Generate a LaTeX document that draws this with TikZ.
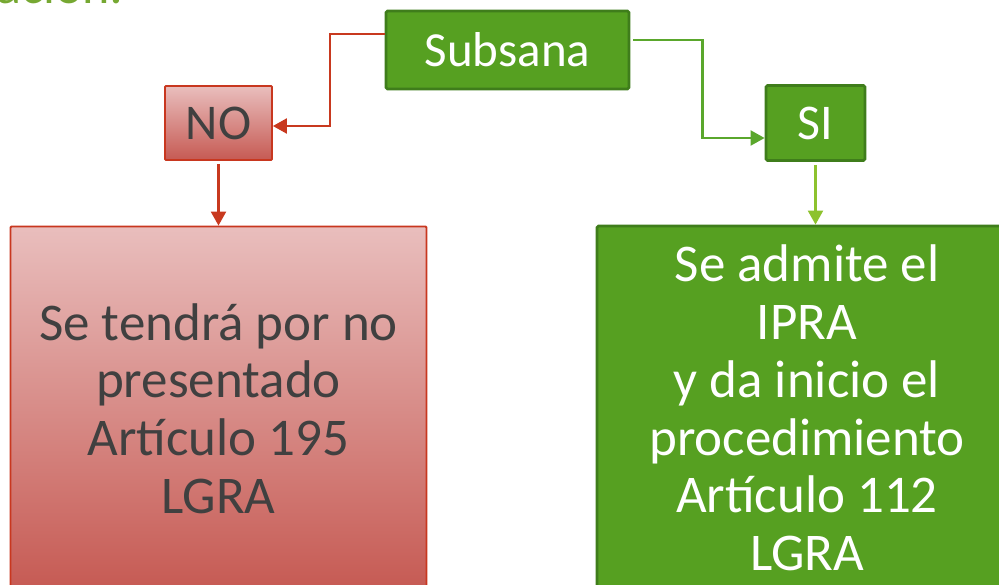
\documentclass[tikz,border=0pt]{standalone}
\usepackage{fontspec}
\setmainfont{Carlito}
\usetikzlibrary{arrows.meta}
\definecolor{gfill}{HTML}{56A021}
\definecolor{gborder}{HTML}{3F7D1B}
\definecolor{rborder}{HTML}{C8371F}
\definecolor{rtop}{HTML}{E9BEBD}
\definecolor{rbot}{HTML}{C65A53}
\definecolor{rtext}{HTML}{404040}
\definecolor{rline}{HTML}{C8391F}
\definecolor{gline}{HTML}{5AA72C}
\definecolor{lgline}{HTML}{8DC22E}
\definecolor{tgreen}{HTML}{76A832}
\begin{document}
\begin{tikzpicture}[x=1pt,y=-1pt,
  txt/.style={font=\fontsize{50}{57.7}\selectfont, align=center, inner sep=0pt},
  bigtxt/.style={font=\fontsize{53}{57.7}\selectfont},
  gbox/.style={draw=gborder, line width=2.8pt, fill=gfill, rounded corners=1.5pt, text=white, txt},
  rbox/.style={draw=rborder, line width=1.8pt, top color=rtop, bottom color=rbot, rounded corners=1pt, text=rtext, txt},
  rarr/.style={draw=rline, line width=2.2pt, -{Triangle[length=14pt,width=15pt]}},
  garr/.style={draw=gline, line width=2.2pt, -{Triangle[length=14pt,width=15pt]}},
  lgarr/.style={draw=lgline, line width=2.2pt, -{Triangle[length=14pt,width=15pt]}},
]
\useasboundingbox (0,0) rectangle (999,584);
\clip (0,0) rectangle (999,584);
\node[anchor=base west, text=tgreen, font=\fontsize{52}{60}\selectfont, inner sep=0pt] (ttl) at (-4,3.5) {ación:};
\node[gbox, minimum width=243pt, minimum height=78pt, font=\fontsize{49}{57.7}\selectfont] (sub) at (507.5,50) {Subsana};
\node[rbox, minimum width=107pt, minimum height=74pt] (no) at (218.5,123) {NO};
\node[gbox, minimum width=99pt, minimum height=75pt] (si) at (815.5,123) {SI};
\node[rbox, bigtxt, minimum width=416pt, minimum height=364pt] (left) at (218.5,408.5) {Se tendrá por no\\presentado\\Artículo 195\\LGRA};
\node[gbox, bigtxt, minimum width=420pt, minimum height=364pt] (right) at (807,408) {Se admite el\\IPRA\\y da inicio el\\procedimiento\\Artículo 112\\LGRA};
\draw[rarr] ([yshift=16pt]sub.west) -- ++(-55,0) |- ([yshift=-3pt]no.east);
\draw[garr] ([yshift=10pt,xshift=3pt]sub.east) -- ++(69,0) |- ([yshift=-15pt]si.west);
\draw[rarr, shorten <=3pt] (no.south) -- (no.south |- left.north);
\draw[lgarr, shorten <=3pt] (si.south) -- (si.south |- right.north);
\end{tikzpicture}
\end{document}
